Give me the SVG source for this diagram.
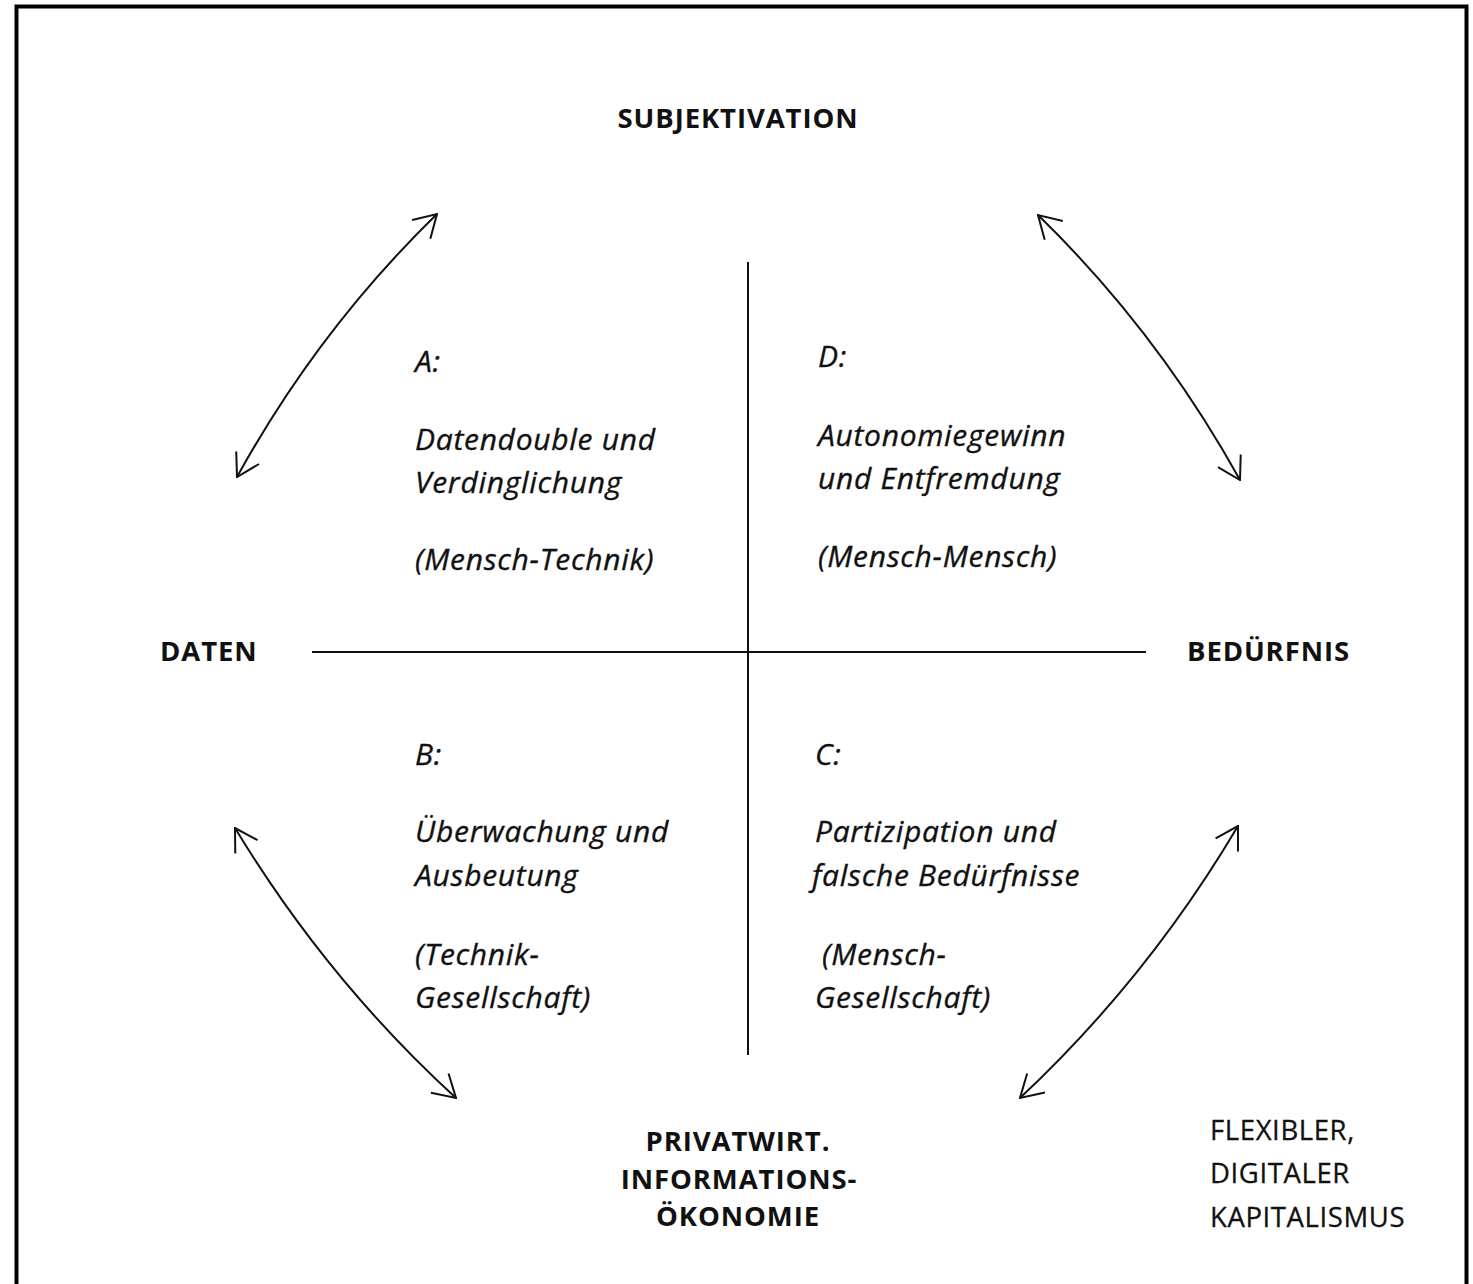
<svg xmlns="http://www.w3.org/2000/svg" width="1473" height="1284" viewBox="0 0 1473 1284">
  <style>
    .head { font-family: "Open Sans", "Liberation Sans", sans-serif; font-weight: bold; font-size: 27.5px; letter-spacing: 0.9px; fill: #111; }
    .cap { font-family: "Open Sans", "Liberation Sans", sans-serif; font-size: 27.5px; letter-spacing: 0.6px; fill: #111; stroke: #111; stroke-width: 0.3; }
    .quad { font-family: "Open Sans", "Liberation Sans", sans-serif; font-style: italic; font-size: 30px; letter-spacing: 0.7px; fill: #111; stroke: #111; stroke-width: 0.35; }
    .axis { stroke: #111; stroke-width: 2; fill: none; }
    .arc { stroke: #111; stroke-width: 2; fill: none; marker-start: url(#open); marker-end: url(#open); }
  </style>
  <defs>
    <!-- open V arrowhead used on both ends of each arc -->
    <marker id="open" viewBox="0 0 24 28" refX="23" refY="14" markerWidth="24" markerHeight="28" markerUnits="userSpaceOnUse" orient="auto-start-reverse">
      <path d="M1,1 L23,14 L1,27" fill="none" stroke="#111" stroke-width="2"/>
    </marker>
  </defs>

  <!-- frame -->
  <rect x="16.5" y="6.5" width="1450" height="1300" fill="#fff" stroke="#000" stroke-width="4"/>

  <g id="connectors">
    <!-- axes -->
    <line class="axis" x1="748" y1="262" x2="748" y2="1055"/>
    <line class="axis" x1="312" y1="652" x2="1146" y2="652"/>
    <!-- double-headed arcs between the poles -->
    <path class="arc" d="M237,477 Q318,330 437,214"/>
    <path class="arc" d="M1038,215 Q1158,332 1240,480"/>
    <path class="arc" d="M235,828 Q327,980 456,1098"/>
    <path class="arc" d="M1238,826 Q1148,978 1020,1098"/>
  </g>

  <!-- pole labels -->
  <g id="subjektivation"><text class="head" x="738" y="128" text-anchor="middle">SUBJEKTIVATION</text></g>
  <g id="daten"><text class="head" x="160" y="661">DATEN</text></g>
  <g id="beduerfnis"><text class="head" x="1187" y="661">BEDÜRFNIS</text></g>
  <g id="informationsoekonomie">
    <text class="head" text-anchor="middle" x="738" y="1151">PRIVATWIRT.</text>
    <text class="head" text-anchor="middle" x="739" y="1189">INFORMATIONS-</text>
    <text class="head" text-anchor="middle" x="738" y="1226">ÖKONOMIE</text>
  </g>
  <g id="kapitalismus">
    <text class="cap" x="1210" y="1140">FLEXIBLER,</text>
    <text class="cap" x="1210" y="1183">DIGITALER</text>
    <text class="cap" x="1210" y="1227">KAPITALISMUS</text>
  </g>

  <!-- quadrants -->
  <g id="quadrant-a">
    <text class="quad" x="415" y="372">A:</text>
    <text class="quad" x="415" y="450">Datendouble und</text>
    <text class="quad" x="415" y="493">Verdinglichung</text>
    <text class="quad" x="415" y="570">(Mensch-Technik)</text>
  </g>
  <g id="quadrant-d">
    <text class="quad" x="818" y="367">D:</text>
    <text class="quad" x="818" y="446">Autonomiegewinn</text>
    <text class="quad" x="818" y="489">und Entfremdung</text>
    <text class="quad" x="818" y="567">(Mensch-Mensch)</text>
  </g>
  <g id="quadrant-b">
    <text class="quad" x="415" y="765">B:</text>
    <text class="quad" x="415" y="842">Überwachung und</text>
    <text class="quad" x="415" y="886">Ausbeutung</text>
    <text class="quad" x="415" y="965">(Technik-</text>
    <text class="quad" x="415" y="1008">Gesellschaft)</text>
  </g>
  <g id="quadrant-c">
    <text class="quad" x="815" y="765">C:</text>
    <text class="quad" x="815" y="842">Partizipation und</text>
    <text class="quad" x="812" y="886">falsche Bedürfnisse</text>
    <text class="quad" x="822" y="965">(Mensch-</text>
    <text class="quad" x="815" y="1008">Gesellschaft)</text>
  </g>
</svg>
